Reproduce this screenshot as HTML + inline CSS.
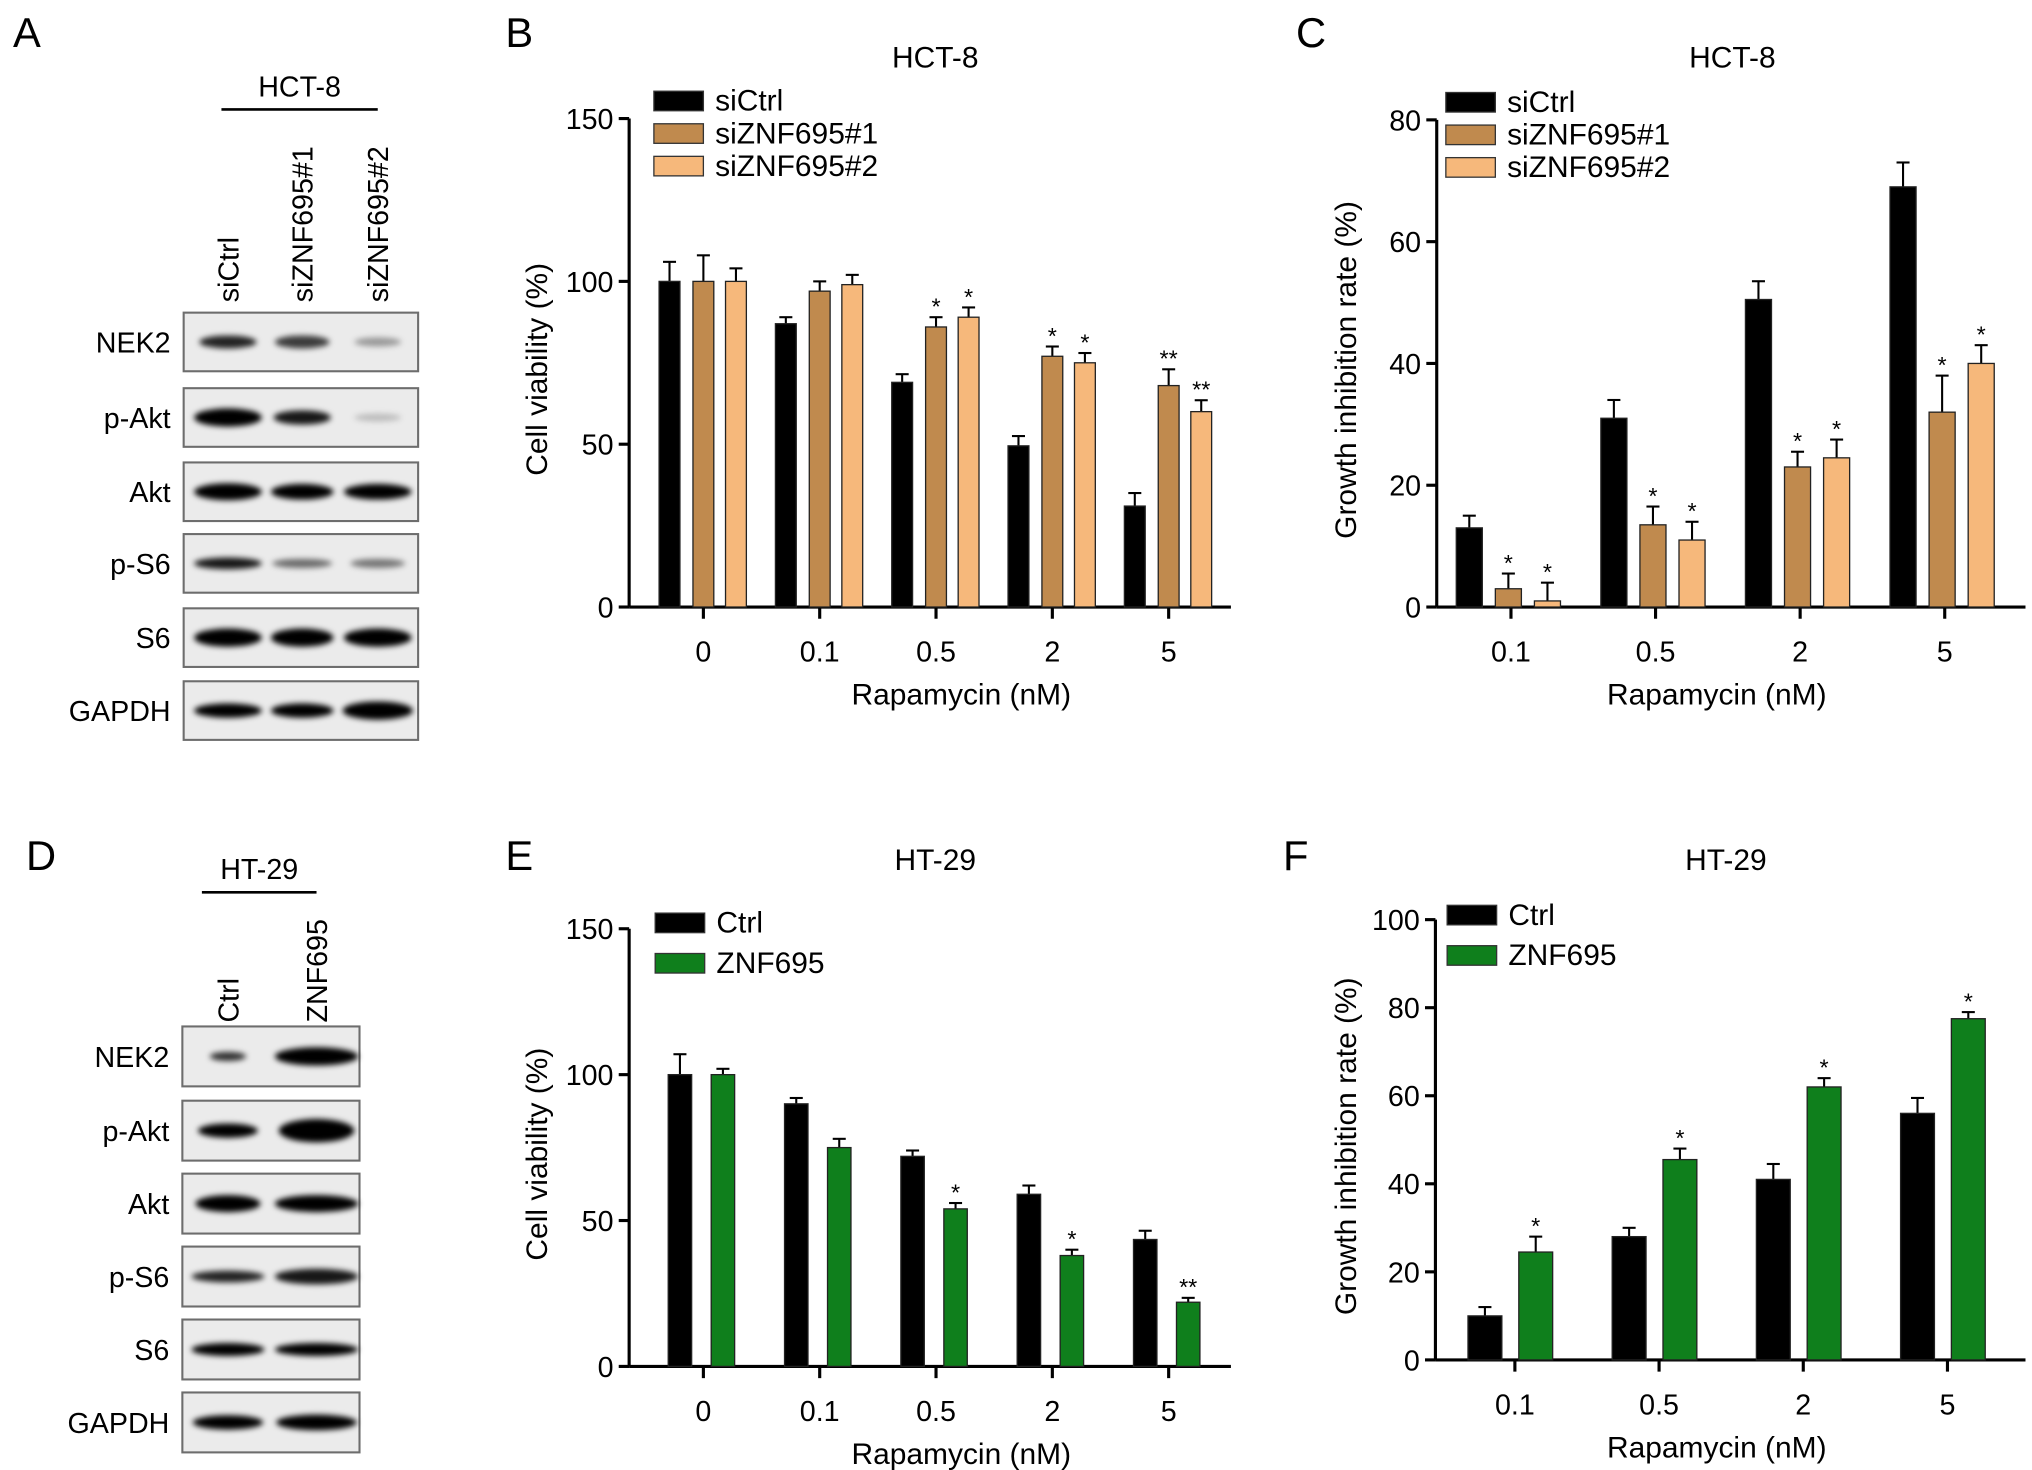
<!DOCTYPE html>
<html><head><meta charset="utf-8"><style>
html,body{margin:0;padding:0;background:#fff}
svg{display:block;font-family:"Liberation Sans",Arial,sans-serif}
</style></head><body>
<svg id="fig" width="2032" height="1470" viewBox="0 0 1560 1128.5" xmlns="http://www.w3.org/2000/svg">
<defs><filter id="blur" x="-30%" y="-100%" width="160%" height="300%"><feGaussianBlur stdDeviation="2.2"/></filter></defs>
<g id="root"></g>
</svg>
<script>
// ---------- DATA ----------
const catsB = ['0','0.1','0.5','2','5'];
const bCtrl = [100,87,69,49.5,31];
const bCtrlErr = [6,2,2.5,3,4];
const bSi1 = [100,97,86,77,68];
const bSi1Err = [8,3,3,3,5];
const bSi2 = [100,99,89,75,60];
const bSi2Err = [4,3,3,3,3.5];
const bStars1 = ['','','*','*','**'];
const bStars2 = ['','','*','*','**'];
const ticksB = [0,50,100,150];

const catsC = ['0.1','0.5','2','5'];
const cCtrl = [13,31,50.5,69];
const cCtrlErr = [2,3,3,4];
const cSi1 = [3,13.5,23,32];
const cSi1Err = [2.5,3,2.5,6];
const cSi2 = [1,11,24.5,40];
const cSi2Err = [3,3,3,3];
const cStars1 = ['*','*','*','*'];
const cStars2 = ['*','*','*','*'];
const ticksC = [0,20,40,60,80];

const catsE = ['0','0.1','0.5','2','5'];
const eCtrl = [100,90,72,59,43.5];
const eCtrlErr = [7,2,2,3,3];
const eZnf = [100,75,54,38,22];
const eZnfErr = [2,3,2,2,1.5];
const eStars = ['','','*','*','**'];
const ticksE = [0,50,100,150];

const catsF = ['0.1','0.5','2','5'];
const fCtrl = [10,28,41,56];
const fCtrlErr = [2,2,3.5,3.5];
const fZnf = [24.5,45.5,62,77.5];
const fZnfErr = [3.5,2.5,2,1.5];
const fStars = ['*','*','*','*'];
const ticksF = [0,20,40,60,80,100];

const NS='http://www.w3.org/2000/svg';
const root=document.getElementById('root');
function mk(tag,attrs,parent,txt){const e=document.createElementNS(NS,tag);for(const k in attrs)e.setAttribute(k,attrs[k]);if(txt!==undefined)e.textContent=txt;(parent||root).appendChild(e);return e;}

const BLACK='#000', BROWN='#c08a4e', LIGHT='#f6b87b', GREEN='#0f7f1c';

function chart(o){
  const g=mk('g',{});
  
  
  const y=v=>o.y0-(v/o.ymax)*(o.y0-o.ytop);
  // title
  const t=mk('text',{x:o.titleX,y:o.titleY,'font-size':23,'text-anchor':'middle'},g,o.title);
  
  // y axis
  const ya=mk('line',{x1:o.ax,y1:o.y0,x2:o.ax,y2:y(o.ticks[o.ticks.length-1]),stroke:'#000','stroke-width':2.4},g);
  
  o.ticks.forEach(tv=>{
    mk('line',{x1:o.ax-8,y1:y(tv),x2:o.ax,y2:y(tv),stroke:'#000','stroke-width':2.4},g);
    const tl=mk('text',{x:o.ax-12,y:y(tv)+8,'font-size':22,'text-anchor':'end'},g,String(tv));
    
  });
  const yt=mk('text',{x:0,y:0,'font-size':23,'text-anchor':'middle',transform:`translate(${o.ytX},${(o.y0+o.ytop)/2+5}) rotate(-90)`},g,o.ytitle);
  
  // x axis
  const xa=mk('line',{x1:o.ax,y1:o.y0,x2:o.axEnd,y2:o.y0,stroke:'#000','stroke-width':2.4},g);
  
  const xc=i=>o.x0+i*o.step;
  o.cats.forEach((c,i)=>{
    mk('line',{x1:xc(i),y1:o.y0,x2:xc(i),y2:o.y0+9,stroke:'#000','stroke-width':2.4},g);
    const xl=mk('text',{x:xc(i),y:o.y0+42,'font-size':22,'text-anchor':'middle'},g,c);
    
  });
  const xt=mk('text',{x:o.xtX,y:o.y0+75,'font-size':23,'text-anchor':'middle'},g,'Rapamycin (nM)');
  
  // series
  o.series.forEach((s,si)=>{
    s.vals.forEach((v,i)=>{
      const cx=xc(i)+s.off, bx=cx-o.bw/2;
      const top=y(v), et=y(v+s.err[i]);
      mk('line',{x1:cx,y1:top,x2:cx,y2:et,stroke:'#000','stroke-width':1.6},g);
      mk('line',{x1:cx-5,y1:et,x2:cx+5,y2:et,stroke:'#000','stroke-width':1.6},g);
      const r=mk('rect',{x:bx,y:top,width:o.bw,height:o.y0-top,fill:s.color,stroke:'#222','stroke-width':1},g);
      
      
      if(s.stars&&s.stars[i]){
        const st=mk('text',{x:cx,y:et-2,'font-size':18,'text-anchor':'middle'},g,s.stars[i]);
        
      }
    });
    const lx=o.legX, ly=o.legY+si*o.legStep;
    const sw=mk('rect',{x:lx,y:ly,width:38,height:15,fill:s.color,stroke:'#333','stroke-width':1},g);
    
    const lt=mk('text',{x:lx+47,y:ly+15,'font-size':23},g,s.label);
    
  });
}

chart({name:'chart-b-hct8-viability',title:'HCT-8',titleX:718,titleY:52,ax:483,axEnd:945,y0:466,ytop:91,ymax:150,ticks:ticksB,
  ytitle:'Cell viability (%)',ytX:420,xtX:738,cats:catsB,x0:540,step:89.3,bw:16,legX:502,legY:70,legStep:25,
  series:[{key:'sictrl',label:'siCtrl',color:BLACK,vals:bCtrl,err:bCtrlErr,off:-26},
          {key:'siznf695-1',label:'siZNF695#1',color:BROWN,vals:bSi1,err:bSi1Err,off:0,stars:bStars1},
          {key:'siznf695-2',label:'siZNF695#2',color:LIGHT,vals:bSi2,err:bSi2Err,off:25,stars:bStars2}]});
chart({name:'chart-c-hct8-inhibition',title:'HCT-8',titleX:1330,titleY:52,ax:1103,axEnd:1555,y0:466,ytop:92,ymax:80,ticks:ticksC,
  ytitle:'Growth inhibition rate (%)',ytX:1041,xtX:1318,cats:catsC,x0:1160,step:111,bw:20,legX:1110,legY:71,legStep:25,
  series:[{key:'sictrl',label:'siCtrl',color:BLACK,vals:cCtrl,err:cCtrlErr,off:-32},
          {key:'siznf695-1',label:'siZNF695#1',color:BROWN,vals:cSi1,err:cSi1Err,off:-2,stars:cStars1},
          {key:'siznf695-2',label:'siZNF695#2',color:LIGHT,vals:cSi2,err:cSi2Err,off:28,stars:cStars2}]});
chart({name:'chart-e-ht29-viability',title:'HT-29',titleX:718,titleY:668,ax:483,axEnd:945,y0:1049,ytop:713,ymax:150,ticks:ticksE,
  ytitle:'Cell viability (%)',ytX:420,xtX:738,cats:catsE,x0:540,step:89.3,bw:18,legX:503,legY:701,legStep:31,
  series:[{key:'ctrl',label:'Ctrl',color:BLACK,vals:eCtrl,err:eCtrlErr,off:-18},
          {key:'znf695',label:'ZNF695',color:GREEN,vals:eZnf,err:eZnfErr,off:15,stars:eStars}]});
chart({name:'chart-f-ht29-inhibition',title:'HT-29',titleX:1325,titleY:668,ax:1102,axEnd:1555,y0:1044,ytop:706,ymax:100,ticks:ticksF,
  ytitle:'Growth inhibition rate (%)',ytX:1041,xtX:1318,cats:catsF,x0:1163,step:110.7,bw:26,legX:1111,legY:695,legStep:31,
  series:[{key:'ctrl',label:'Ctrl',color:BLACK,vals:fCtrl,err:fCtrlErr,off:-23},
          {key:'znf695',label:'ZNF695',color:GREEN,vals:fZnf,err:fZnfErr,off:16,stars:fStars}]});

// panel letters
[['A',10,36],['B',388,36],['C',995,36],['D',20,668],['E',388,668],['F',985,668]].forEach(p=>{
  const l=mk('text',{x:p[1],y:p[2],'font-size':32},root,p[0]);
  
  
});

// western blots
function blot(o){
  const g=mk('g',{});
  
  
  const h=mk('text',{x:(o.lineX1+o.lineX2)/2,y:o.lineY-10,'font-size':22,'text-anchor':'middle'},g,o.cell);
  
  mk('line',{x1:o.lineX1,y1:o.lineY,x2:o.lineX2,y2:o.lineY,stroke:'#000','stroke-width':2},g);
  o.lanes.forEach((ln,i)=>{
    const t=mk('text',{x:0,y:0,'font-size':22,transform:`translate(${o.laneX[i]+8},${o.laneLabelY}) rotate(-90)`},g,ln);
    
  });
  o.rows.forEach((r,ri)=>{
    const y=o.rowY[ri];
    const b=mk('rect',{x:o.bx,y:y,width:o.bw,height:o.bh,fill:'#ebebeb',stroke:'#6d6d6d','stroke-width':1.6},g);
    
    const lt=mk('text',{x:o.bx-10,y:y+o.bh/2+8,'font-size':22,'text-anchor':'end'},g,r);
    
    o.bands[ri].forEach((a,li)=>{
      const e=mk('ellipse',{cx:o.laneX[li],cy:y+o.bh/2,rx:o.bandW[ri][li]/2,ry:o.bandH[ri][li]/2,fill:'#000','fill-opacity':a,filter:'url(#blur)'},g);
      
    });
  });
}
blot({name:'western-blot-a',cell:'HCT-8',lineX1:170,lineX2:290,lineY:84,lanes:['siCtrl','siZNF695#1','siZNF695#2'],laneX:[175,232,290],laneLabelY:232,
  bx:141,bw:180,bh:45,rowY:[240,298,355,410,467,523],rows:['NEK2','p-Akt','Akt','p-S6','S6','GAPDH'],
  bands:[[0.85,0.75,0.35],[1,0.9,0.2],[1,1,1],[0.9,0.55,0.5],[1,1,1],[1,1,1]],
  bandW:[[44,42,36],[52,44,36],[52,48,52],[52,46,42],[52,48,52],[52,48,54]],
  bandH:[[10,10,7],[14,11,6],[13,12,12],[9,7,7],[14,14,14],[11,11,14]]});
blot({name:'western-blot-d',cell:'HT-29',lineX1:155,lineX2:243,lineY:685,lanes:['Ctrl','ZNF695'],laneX:[175,243],laneLabelY:785,
  bx:140,bw:136,bh:46,rowY:[788,845,901,957,1013,1069],rows:['NEK2','p-Akt','Akt','p-S6','S6','GAPDH'],
  bands:[[0.8,1],[1,1],[1,1],[0.85,0.9],[1,1],[1,1]],
  bandW:[[28,64],[46,58],[50,64],[56,64],[56,64],[54,62]],
  bandH:[[7,14],[11,18],[13,13],[9,12],[10,10],[11,12]]});
</script>
</body></html>
